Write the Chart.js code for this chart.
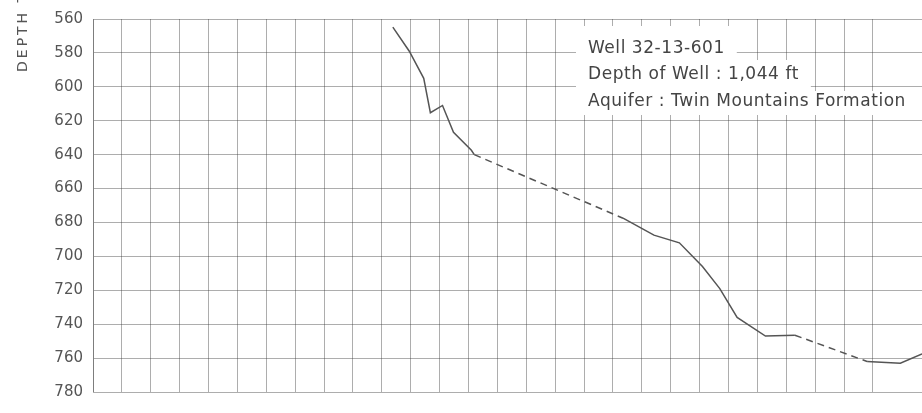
<!DOCTYPE html>
<html>
<head>
<meta charset="utf-8">
<script src="https://cdn.jsdelivr.net/npm/chart.js@4"></script>
<style>
  html, body { margin: 0; padding: 0; background: #fff; }
  #wrap { width: 922px; height: 413px; position: relative; }
</style>
</head>
<body>
<div id="wrap"><canvas id="hydro"></canvas></div>
<script>
// ── data ──
// x = grid column counted from the left edge, y = depth to water (ft)
const wellCol = [10.38, 10.95, 11.45, 11.68, 12.1, 12.48, 13.1, 13.2, 18.35, 19.42, 20.3, 21.1, 21.7, 22.3, 23.28, 24.3, 26.8, 27.95, 28.7];
const wellDepth = [564.8, 579, 595, 615.3, 611, 626.8, 637.4, 640, 677.5, 687.5, 692, 706, 719, 736, 747, 746.5, 762, 763, 757.5];
// segments that start at these indexes are drawn dashed (no record)
const dashedFrom = [7, 15];
const depthTicks = [560, 580, 600, 620, 640, 660, 680, 700, 720, 740, 760, 780];
const axisTitle = 'DEPTH TO WATER LEVEL, IN FEET BELOW LAND SURFACE';
const wellNotes = ['Well 32-13-601', 'Depth of Well : 1,044 ft', 'Aquifer : Twin Mountains Formation'];

const ink = '#444';
const gridInk = 'rgba(60,60,60,0.42)';

// rotated y title (cut off at the top like the scan) + boxed notes
const notesPlugin = {
    id: 'notes',
    afterDatasetsDraw(chart) {
        const ctx = chart.ctx;
        ctx.save();
        ctx.fillStyle = '#555';
        ctx.font = '14px "DejaVu Sans"';
        ctx.letterSpacing = '3px';
        ctx.translate(27, 72);
        ctx.rotate(-Math.PI / 2);
        ctx.textAlign = 'left';
        ctx.textBaseline = 'alphabetic';
        ctx.fillText(axisTitle, 0, 0);
        ctx.restore();

        ctx.save();
        ctx.font = '17px "DejaVu Sans"';
        ctx.letterSpacing = '0.55px';
        ctx.textBaseline = 'alphabetic';
        const baselines = [53, 79, 106];
        const bands = [[26, 60], [60, 91], [91, 115]];
        wellNotes.forEach((txt, i) => {
            const w = ctx.measureText(txt).width;
            ctx.fillStyle = '#fff';
            ctx.fillRect(576, bands[i][0], 588 - 576 + w + 12, bands[i][1] - bands[i][0]);
        });
        ctx.fillStyle = ink;
        wellNotes.forEach((txt, i) => ctx.fillText(txt, 588, baselines[i]));
        ctx.restore();
    }
};

new Chart(document.getElementById('hydro'), {
    type: 'line',
    data: {
        datasets: [{
            data: wellCol.map((c, i) => ({ x: c, y: wellDepth[i] })),
            borderColor: '#555',
            borderWidth: 1.5,
            pointRadius: 0,
            tension: 0,
            segment: {
                borderDash: ctx => dashedFrom.includes(ctx.p0DataIndex) ? [7, 5] : undefined
            }
        }]
    },
    options: {
        responsive: true,
        maintainAspectRatio: false,
        animation: false,
        layout: { padding: { top: 12, bottom: 21, left: 0, right: 0 } },
        plugins: { legend: { display: false }, tooltip: { enabled: false } },
        scales: {
            x: {
                type: 'linear',
                min: 0,
                max: 28.7,
                ticks: { display: false, stepSize: 1 },
                grid: { color: gridInk, lineWidth: 1, drawTicks: false },
                border: { display: false }
            },
            y: {
                reverse: true,
                min: depthTicks[0],
                max: depthTicks[depthTicks.length - 1],
                afterBuildTicks: s => { s.ticks = depthTicks.map(v => ({ value: v })); },
                afterFit: s => { s.width = 93; },
                ticks: { color: '#555', padding: 10, font: { family: 'DejaVu Sans', size: 15 } },
                grid: { color: gridInk, lineWidth: 1, drawTicks: false },
                border: { color: gridInk }
            }
        }
    },
    plugins: [notesPlugin]
});
</script>
</body>
</html>
